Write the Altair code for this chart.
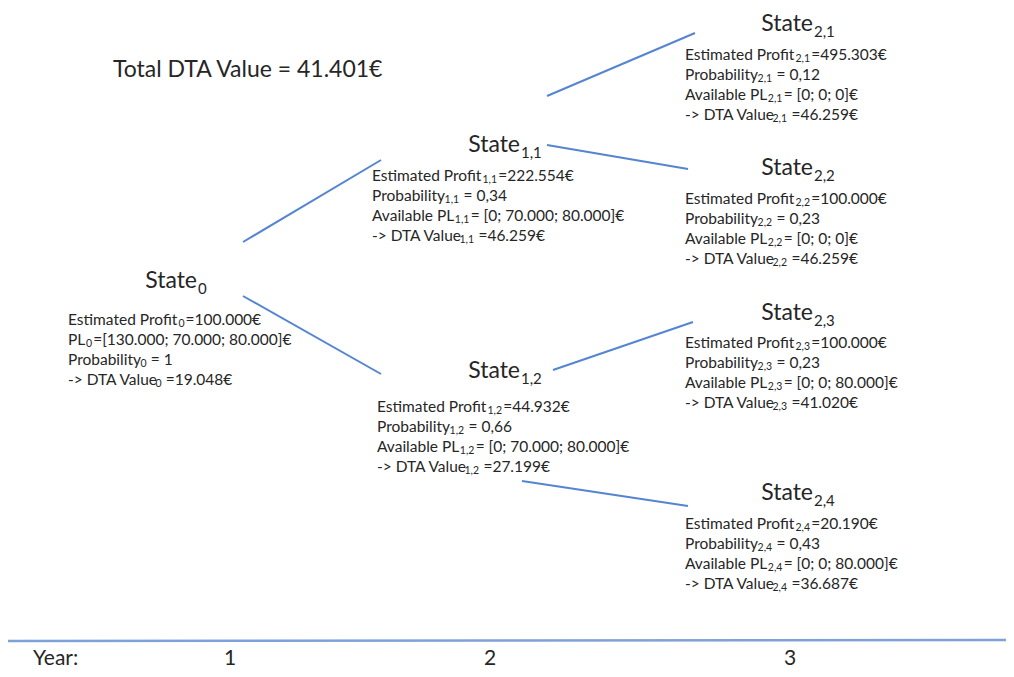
import altair as alt
import pandas as pd

# ---------------- data ----------------
state_ids = ["0", "1,1", "1,2", "2,1", "2,2", "2,3", "2,4"]
est_profit = ["100.000", "222.554", "44.932", "495.303", "100.000", "100.000", "20.190"]
probability = ["1", "0,34", "0,66", "0,12", "0,23", "0,23", "0,43"]
available_pl = ["[130.000; 70.000; 80.000]", "[0; 70.000; 80.000]", "[0; 70.000; 80.000]",
                "[0; 0; 0]", "[0; 0; 0]", "[0; 0; 80.000]", "[0; 0; 80.000]"]
dta_value = ["19.048", "46.259", "27.199", "46.259", "46.259", "41.020", "36.687"]
total_dta = "41.401"
edge_from = ["0", "0", "1,1", "1,1", "1,2", "1,2"]
edge_to = ["1,1", "1,2", "2,1", "2,2", "2,3", "2,4"]
year_labels = ["Year:", "1", "2", "3"]

# ---------------- layout (page pixel space) ----------------
title_anchor = {"0": (197, 281), "1,1": (520, 145), "1,2": (520, 371),
                "2,1": (813, 24), "2,2": (813, 168), "2,3": (813, 313), "2,4": (813, 493)}
body_origin = {"0": (68, 320), "1,1": (372, 176), "1,2": (377, 407),
               "2,1": (685, 55), "2,2": (685, 199), "2,3": (685, 343), "2,4": (685, 524)}
edge_pts = {("0", "1,1"): (243, 242, 381, 160), ("0", "1,2"): (243, 296, 381, 374),
            ("1,1", "2,1"): (547, 96, 695, 33), ("1,1", "2,2"): (547, 145, 688, 169),
            ("1,2", "2,3"): (553, 370, 693, 322), ("1,2", "2,4"): (522, 481, 688, 506)}
year_pos = [(33, "left"), (230, "center"), (490, "center"), (790, "center")]
LINE_GAP = 20

FONT = "Lato"
TXT = "#262626"
BLUE = "#5585D1"
F_BODY = 15.5       # body font size
F_SUB = 10.5        # subscript font size in body
# approximate advance widths (em) of the label prefixes in the body font
PREFIX_EM = {"Estimated Profit": 7.06, "Probability": 4.62, "Available PL": 5.28,
             "-> DTA Value": 5.58, "PL": 1.1}
CHAR_EM = {",": 0.25, " ": 0.2}


def sub_width(s):
    return sum(CHAR_EM.get(c, 0.58) for c in s) * F_SUB


# ---------------- tables ----------------
titles = pd.DataFrame([{"x": title_anchor[s][0], "y": title_anchor[s][1],
                        "ys": title_anchor[s][1] + 8, "t": "State", "s": s} for s in state_ids])

pre_rows, sub_rows, suf_rows = [], [], []
for i, s in enumerate(state_ids):
    if s == "0":
        parts = [("Estimated Profit", f"={est_profit[i]}€"),
                 ("PL", f"={available_pl[i]}€"),
                 ("Probability", f" = {probability[i]}"),
                 ("-> DTA Value", f" ={dta_value[i]}€")]
    else:
        parts = [("Estimated Profit", f"={est_profit[i]}€"),
                 ("Probability", f" = {probability[i]}"),
                 ("Available PL", f"= {available_pl[i]}€"),
                 ("-> DTA Value", f" ={dta_value[i]}€")]
    x0, y0 = body_origin[s]
    for k, (pre, suf) in enumerate(parts):
        y = y0 + k * LINE_GAP
        xs_ = x0 + PREFIX_EM[pre] * F_BODY + 1
        xf = xs_ + sub_width(s) + 1
        if suf.startswith(" "):
            xf += CHAR_EM[" "] * F_BODY
            suf = suf.lstrip()
        pre_rows.append({"x": x0, "y": y, "t": pre})
        sub_rows.append({"x": xs_, "y": y + 4, "t": s})
        suf_rows.append({"x": xf, "y": y, "t": suf})
pre_df, sub_df, suf_df = pd.DataFrame(pre_rows), pd.DataFrame(sub_rows), pd.DataFrame(suf_rows)

edges = pd.DataFrame([{"x": edge_pts[(a, b)][0], "y": edge_pts[(a, b)][1],
                       "x2": edge_pts[(a, b)][2], "y2": edge_pts[(a, b)][3]}
                      for a, b in zip(edge_from, edge_to)])

timeline = pd.DataFrame([{"x": 8, "y": 641, "x2": 1006, "y2": 640}])
years_df = pd.DataFrame([{"x": p[0], "y": 659, "t": lab, "al": p[1]}
                         for lab, p in zip(year_labels, year_pos)])
total_df = pd.DataFrame([{"x": 113, "y": 70, "t": f"Total DTA Value = {total_dta}€"}])

xsc = alt.Scale(domain=[8, 1006])
ysc = alt.Scale(domain=[8, 669], reverse=True)
X = lambda f: alt.X(f, type="quantitative", scale=xsc, axis=None)
Y = lambda f: alt.Y(f, type="quantitative", scale=ysc, axis=None)


def text_layer(df, size, align="left", **kw):
    return alt.Chart(df).mark_text(font=FONT, fontSize=size, align=align,
                                   baseline="middle", color=TXT, **kw).encode(
        x=X("x"), y=Y("y"), text="t:N")


edge_layer = alt.Chart(edges).mark_rule(color=BLUE, strokeWidth=2).encode(
    x=X("x"), y=Y("y"), x2="x2", y2="y2")
time_layer = alt.Chart(timeline).mark_rule(color="#7FA0D8", strokeWidth=2.5).encode(
    x=X("x"), y=Y("y"), x2="x2", y2="y2")
title_main = alt.Chart(titles).mark_text(font=FONT, fontSize=23, align="right",
                                         baseline="middle", color=TXT).encode(
    x=X("x"), y=Y("y"), text="t:N")
title_sub = alt.Chart(titles).mark_text(font=FONT, fontSize=15, align="left",
                                        baseline="middle", color=TXT, dx=1).encode(
    x=X("x"), y=Y("ys"), text="s:N")

layers = [edge_layer, time_layer, title_main, title_sub,
          text_layer(pre_df, F_BODY), text_layer(sub_df, F_SUB), text_layer(suf_df, F_BODY),
          text_layer(years_df[years_df.al == "left"], 21),
          text_layer(years_df[years_df.al == "center"], 21, align="center"),
          text_layer(total_df, 23)]

chart = alt.layer(*layers).properties(
    width=998, height=661, autosize=alt.AutoSizeParams(type="none"), padding=0,
    background="white"
).configure_view(stroke=None)

chart.save("out.html", embed_options={"renderer": "svg", "actions": False})
